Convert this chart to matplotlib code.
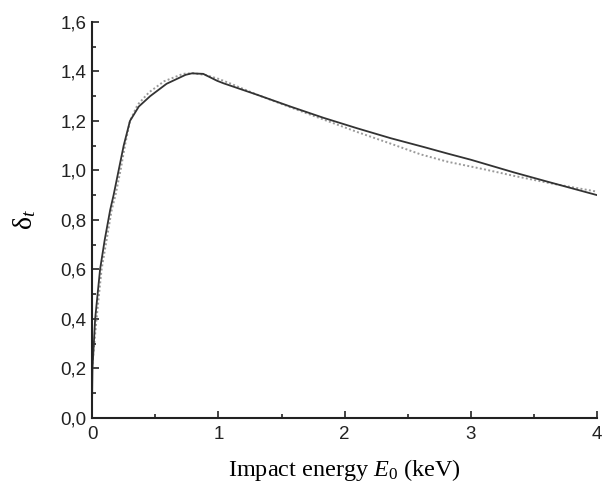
import numpy as np
import matplotlib
matplotlib.use('Agg')
import matplotlib.pyplot as plt
from matplotlib.ticker import MultipleLocator, FuncFormatter

# solid curve
e_solid = [0.0, 0.003, 0.024, 0.063, 0.10, 0.143, 0.17, 0.21, 0.25, 0.30, 0.37, 0.46,
           0.59, 0.74, 0.79, 0.88, 0.99, 1.04, 1.31, 1.57, 1.835, 2.10, 2.365,
           2.63, 2.815, 3.0, 3.34, 3.61, 4.0]
d_solid = [0.08, 0.20, 0.40, 0.60, 0.72, 0.84, 0.90, 1.00, 1.10, 1.20, 1.258, 1.30,
           1.35, 1.386, 1.392, 1.39, 1.362, 1.352, 1.305, 1.258, 1.212, 1.17, 1.13,
           1.094, 1.068, 1.043, 0.992, 0.954, 0.90]

# dotted curve
e_dot = [0.0, 0.01, 0.035, 0.075, 0.115, 0.155, 0.185, 0.225, 0.26, 0.30, 0.36, 0.45,
         0.57, 0.72, 0.80, 0.90, 1.00, 1.10, 1.31, 1.57, 1.835, 2.10, 2.365,
         2.60, 2.815, 3.10, 3.34, 3.63, 4.0]
d_dot = [0.20, 0.26, 0.40, 0.60, 0.72, 0.84, 0.90, 1.00, 1.10, 1.20, 1.265, 1.315,
         1.36, 1.39, 1.393, 1.385, 1.37, 1.35, 1.305, 1.255, 1.205, 1.155, 1.108,
         1.065, 1.035, 1.005, 0.978, 0.948, 0.914]

plt.rcParams['mathtext.fontset'] = 'custom'
plt.rcParams['mathtext.rm'] = 'Liberation Serif'
plt.rcParams['mathtext.it'] = 'Liberation Serif:italic'

fig = plt.figure(figsize=(6.02, 4.86), dpi=100)
ax = fig.add_axes([0.153, 0.140, 0.839, 0.815])

ax.plot(e_dot, d_dot, color='#9a9a9a', lw=1.4, ls=(0, (1, 1.2)))
ax.plot(e_solid, d_solid, color='#333333', lw=1.3)

ax.set_xlim(0, 4)
ax.set_ylim(0, 1.6)
ax.spines['top'].set_visible(False)
ax.spines['right'].set_visible(False)
for s in ['left', 'bottom']:
    ax.spines[s].set_linewidth(1.5)
    ax.spines[s].set_color('#222222')

ax.xaxis.set_major_locator(MultipleLocator(1))
ax.xaxis.set_minor_locator(MultipleLocator(0.5))
ax.yaxis.set_major_locator(MultipleLocator(0.2))
ax.yaxis.set_minor_locator(MultipleLocator(0.1))
ax.yaxis.set_major_formatter(FuncFormatter(lambda v, p: ('%.1f' % v).replace('.', ',')))
ax.xaxis.set_major_formatter(FuncFormatter(lambda v, p: '%d' % round(v)))

ax.tick_params(which='both', direction='in', colors='#222222', width=1.2,
               labelsize=13.5, labelcolor='#222222')
ax.tick_params(which='major', length=5)
ax.tick_params(which='minor', length=3)
ax.tick_params(axis='x', pad=6)
ax.tick_params(axis='y', pad=4)
for lab in ax.get_xticklabels() + ax.get_yticklabels():
    lab.set_fontfamily('Liberation Sans')

ax.set_xlabel(r'Impact energy $E_0$ (keV)', fontfamily='Liberation Serif',
              fontsize=17.5, labelpad=10)
ax.set_ylabel(r'$\mathrm{δ}_t$', fontsize=20, labelpad=16)

plt.savefig('out.png', dpi=100)
